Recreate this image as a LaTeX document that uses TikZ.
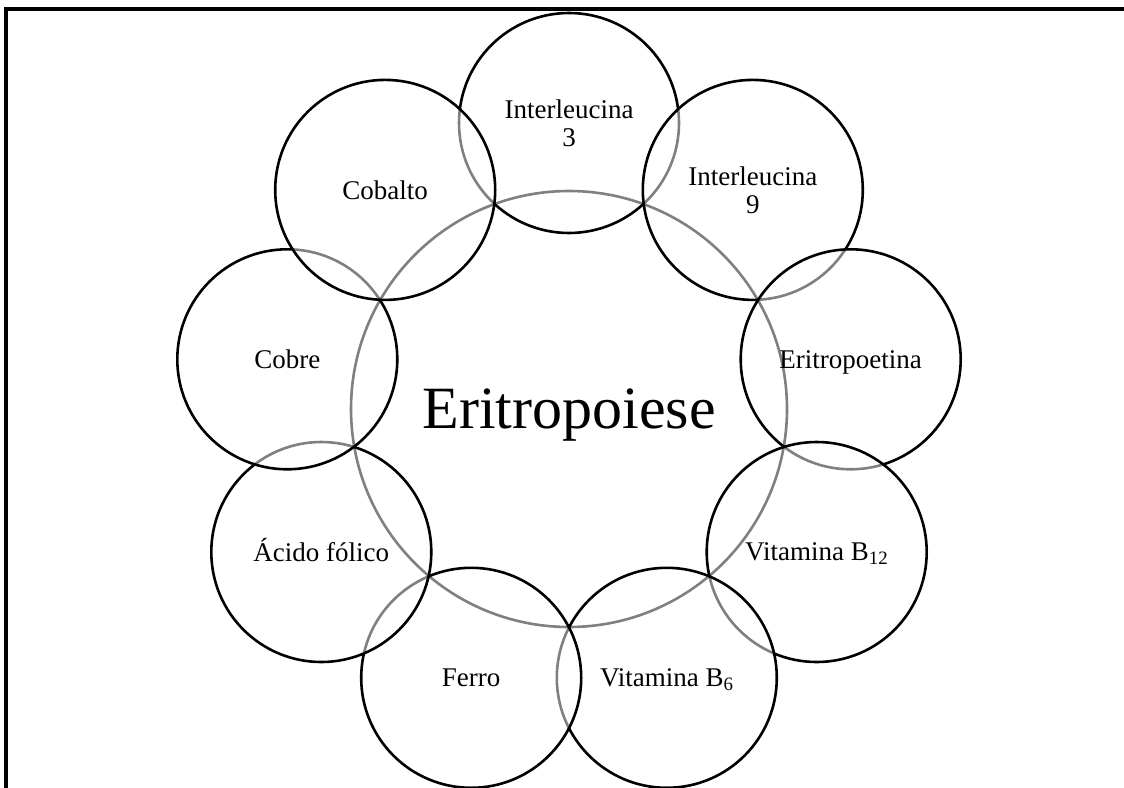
\documentclass[tikz,border=0pt]{standalone}
\usepackage{fontspec}
\setmainfont{Liberation Serif}
\begin{document}
\begin{tikzpicture}[x=1pt,y=-1pt,
  ring/.style={circle, draw=black, line width=2.6pt, fill=white, fill opacity=0.5,
    text opacity=1, minimum size=220pt, inner sep=0pt, text depth=0pt,
    font=\fontsize{27}{28}\selectfont, align=center},
  hub/.style={circle, draw=black, line width=2.6pt, minimum size=436pt, inner sep=0pt,
    text depth=0pt, font=\fontsize{60}{62}\selectfont},
  frame/.style={line width=3.2pt, line cap=rect}]
\useasboundingbox (0,0) rectangle (1124,787);
\draw[frame] (6,787) -- (6,9) -- (1124,9);
\node[hub] (hub) at (569,409) {Eritropoiese};
\node[ring] (il3)  at (569,123)     {Interleucina\\3};
\node[ring] (il9)  at (752.8,189.9) {Interleucina\\9};
\node[ring] (epo)  at (850.7,359.3) {Eritropoetina};
\node[ring] (b12)  at (816.7,552)   {Vitamina B\textsubscript{12}};
\node[ring] (b6)   at (666.8,677.8) {Vitamina B\textsubscript{6}};
\node[ring] (fe)   at (471.2,677.8) {Ferro};
\node[ring, text height=18pt] (acf) at (321.3,552) {Ácido fólico};
\node[ring] (cu)   at (287.3,359.3) {Cobre};
\node[ring] (co)   at (385.2,189.9) {Cobalto};
\end{tikzpicture}
\end{document}
